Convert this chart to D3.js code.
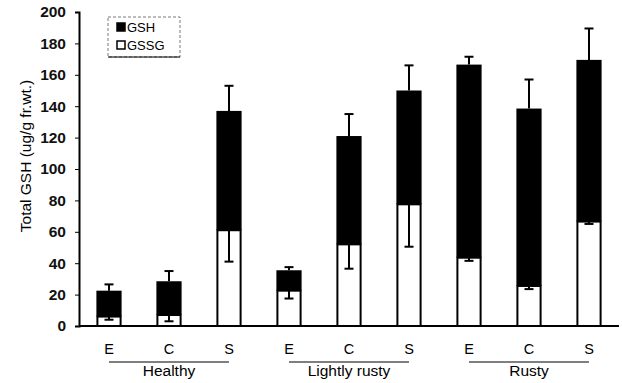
<!DOCTYPE html>
<html>
<head>
<meta charset="utf-8">
<script src="https://cdn.jsdelivr.net/npm/d3@7"></script>
<style>
  body { margin: 0; background: #fff; }
  svg text { font-family: "Liberation Sans", Arial, sans-serif; fill: #000; }
</style>
</head>
<body>
<div id="chart"></div>
<script>
// data
const groups = ["Healthy", "Lightly rusty", "Rusty"];
const tissues = ["E", "C", "S"];
const gssg = [6, 7, 61, 22.5, 52, 77.5, 43.5, 25.5, 66.5];
const total = [22.5, 28.5, 137, 35.5, 121, 150, 166.5, 138.5, 169.5];
const gssgErr = [2, 4, 20, 5, 15.5, 27, 2, 2, 1.5];
const totalErr = [4, 6.5, 16, 2, 14, 16, 5, 18.5, 20];
const yTicks = [0, 20, 40, 60, 80, 100, 120, 140, 160, 180, 200];

const W = 622, H = 383;
const margin = { left: 79, right: 3, top: 12, bottom: 57 };
const width = W - margin.left - margin.right;
const height = H - margin.top - margin.bottom;

const bars = [];
groups.forEach((g, gi) => tissues.forEach((t, ti) => {
  const i = gi * 3 + ti;
  bars.push({ key: g + "-" + t, group: g, tissue: t, gssg: gssg[i], total: total[i], ge: gssgErr[i], te: totalErr[i] });
}));

const svg = d3.select("#chart").append("svg")
  .attr("width", W).attr("height", H);
const g = svg.append("g").attr("transform", "translate(" + margin.left + "," + margin.top + ")");

const x = d3.scaleBand().domain(bars.map(d => d.key)).range([0, width]).paddingInner(0.58).paddingOuter(0.29);
const y = d3.scaleLinear().domain([0, 200]).range([height, 0]);

// Y axis
const yAxis = g.append("g")
  .call(d3.axisLeft(y).tickValues(yTicks).tickSize(4).tickPadding(9));
yAxis.select(".domain").attr("stroke-width", 2);
yAxis.selectAll("text").style("font-size", "15.5px").style("font-weight", "bold").style("fill", "#111");

// bars: GSSG white, GSH black on top
const bw = x.bandwidth();
const bar = g.append("g").selectAll("g").data(bars).enter().append("g");
bar.append("rect")
  .attr("x", d => x(d.key)).attr("width", bw)
  .attr("y", d => y(d.total)).attr("height", d => y(d.gssg) - y(d.total))
  .attr("fill", "#000");
bar.append("rect")
  .attr("x", d => x(d.key) + 1).attr("width", bw - 2)
  .attr("y", d => y(d.gssg)).attr("height", d => y(0) - y(d.gssg))
  .attr("fill", "#fff").attr("stroke", "#000").attr("stroke-width", 2);

// error bars
const cap = 4.5;
bar.append("line")
  .attr("x1", d => x(d.key) + bw / 2).attr("x2", d => x(d.key) + bw / 2)
  .attr("y1", d => y(d.total)).attr("y2", d => y(d.total + d.te))
  .attr("stroke", "#000").attr("stroke-width", 2);
bar.append("line")
  .attr("x1", d => x(d.key) + bw / 2 - cap).attr("x2", d => x(d.key) + bw / 2 + cap)
  .attr("y1", d => y(d.total + d.te)).attr("y2", d => y(d.total + d.te))
  .attr("stroke", "#000").attr("stroke-width", 2);
bar.append("line")
  .attr("x1", d => x(d.key) + bw / 2).attr("x2", d => x(d.key) + bw / 2)
  .attr("y1", d => y(d.gssg)).attr("y2", d => y(d.gssg - d.ge))
  .attr("stroke", "#000").attr("stroke-width", 2);
bar.append("line")
  .attr("x1", d => x(d.key) + bw / 2 - cap).attr("x2", d => x(d.key) + bw / 2 + cap)
  .attr("y1", d => y(d.gssg - d.ge)).attr("y2", d => y(d.gssg - d.ge))
  .attr("stroke", "#000").attr("stroke-width", 2);

// X axis line
g.append("line").attr("x1", 0).attr("x2", width).attr("y1", height).attr("y2", height)
  .attr("stroke", "#000").attr("stroke-width", 2);

// tissue labels
g.selectAll(".tl").data(bars).enter().append("text")
  .attr("x", d => x(d.key) + bw / 2).attr("y", height + 28)
  .attr("text-anchor", "middle").style("font-size", "14.5px")
  .text(d => d.tissue);

// group lines + labels
groups.forEach(gr => {
  const first = x(gr + "-E") + bw / 2, last = x(gr + "-S") + bw / 2;
  g.append("line").attr("x1", first).attr("x2", last)
    .attr("y1", height + 36).attr("y2", height + 36)
    .attr("stroke", "#000").attr("stroke-width", 1.2);
  g.append("text").attr("x", (first + last) / 2).attr("y", height + 50)
    .attr("text-anchor", "middle").style("font-size", "15.5px").text(gr);
});

// y title
svg.append("text")
  .attr("transform", "translate(31," + (margin.top + height / 2 - 13) + ") rotate(-90)")
  .attr("text-anchor", "middle").style("font-size", "15.5px")
  .text("Total GSH (ug/g fr.wt.)");

// legend
const leg = svg.append("g").attr("transform", "translate(108,17)");
leg.append("rect").attr("width", 72).attr("height", 40)
  .attr("fill", "none").attr("stroke", "#555").attr("stroke-width", 0.8).attr("stroke-dasharray", "3,2");
leg.append("line").attr("x1", 0).attr("x2", 72).attr("y1", 40).attr("y2", 40).attr("stroke", "#000");
const items = [{ name: "GSH", fill: "#000" }, { name: "GSSG", fill: "#fff" }];
items.forEach((it, i) => {
  leg.append("rect").attr("x", 9).attr("y", 6 + i * 18).attr("width", 8).attr("height", 8)
    .attr("fill", it.fill).attr("stroke", "#000").attr("stroke-width", 1.5);
  leg.append("text").attr("x", 19).attr("y", 15 + i * 18).style("font-size", "13px").text(it.name);
});
</script>
</body>
</html>
